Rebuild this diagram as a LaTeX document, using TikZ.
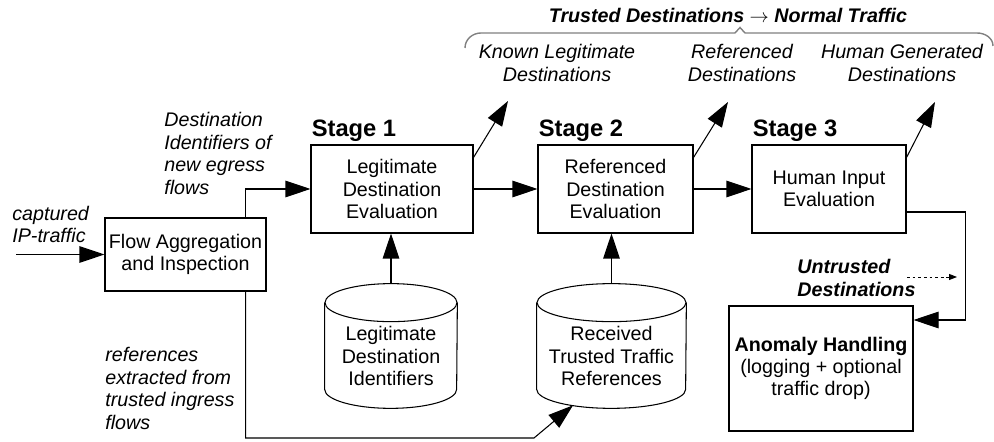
\documentclass[tikz,border=0pt]{standalone}
\usepackage{fontspec}
\setmainfont{Liberation Sans}
\usetikzlibrary{arrows.meta,positioning,calc}

\begin{document}
\begin{tikzpicture}[every node/.style={font=\fontsize{11.2}{12.6}\selectfont},
    block/.style={draw, line width=0.6pt, rectangle, align=center, inner sep=2pt},
    store/.style={rectangle, inner sep=0pt, minimum height=2.48cm},
    lbl/.style={align=left, inner sep=0pt, font=\fontsize{11.2}{13}\selectfont\itshape},
    stagelbl/.style={anchor=base west, inner sep=0pt, font=\fontsize{13.5}{15}\selectfont\bfseries},
    arr/.style={line width=0.6pt, -{Triangle[length=0.5cm, width=0.33cm]}},
    dotarr/.style={line width=0.5pt, dash pattern=on 1.6pt off 1.6pt, -{Triangle[length=0.16cm, width=0.12cm]}},
    brc/.style={gray, line width=0.8pt}
  ]
  \useasboundingbox (0,0) rectangle (19.88,8.84);

  % Bloecke
  \node[block, minimum width=3.22cm, minimum height=1.46cm] (flow) at (3.71,3.75) {Flow Aggregation\\and Inspection};
  \node[block, minimum width=3.24cm, minimum height=1.76cm] (s1) at (7.84,5.06) {Legitimate\\Destination\\Evaluation};
  \node[block, minimum width=3.10cm, minimum height=1.76cm] (s2) at (12.31,5.06) {Referenced\\Destination\\Evaluation};
  \node[block, minimum width=3.08cm, minimum height=1.76cm] (s3) at (16.58,5.06) {Human Input\\Evaluation};
  \node[block, minimum width=3.68cm, minimum height=2.50cm] (anom) at (16.42,1.47) {\textbf{Anomaly Handling}\\(logging + optional\\traffic drop)};

  % Stufen
  \node[stagelbl] (lab1) at ($(s1.north west)+(0.02,0.16)$) {Stage 1};
  \node[stagelbl] (lab2) at ($(s2.north west)+(0.02,0.16)$) {Stage 2};
  \node[stagelbl] (lab3) at ($(s3.north west)+(0.02,0.16)$) {Stage 3};

  % Datenbanken (Zylinder)
  \node[store, minimum width=2.64cm, label={[yshift=-0.2cm, align=center]center:Legitimate\\Destination\\Identifiers}] (cyl1) at (7.82,1.92) {};
  \node[store, minimum width=2.98cm, label={[yshift=-0.2cm, align=center]center:Received\\Trusted Traffic\\References}] (cyl2) at (12.23,1.92) {};
  \foreach \c/\rx in {cyl1/1.32, cyl2/1.49} {%
    \draw[line width=0.6pt] ($(\c.north west)+(0,-0.38)$) -- ($(\c.south west)+(0,0.38)$)
      arc[start angle=180, end angle=360, x radius=\rx, y radius=0.38] -- ($(\c.north east)+(0,-0.38)$);
    \draw[line width=0.6pt] ($(\c.north)+(0,-0.38)$) ellipse[x radius=\rx, y radius=0.38];
  }

  % Beschriftungen
  \node[lbl, anchor=west] (cap) at (0.24,4.35) {captured\\IP-traffic};
  \node[lbl, anchor=west] (dlab) at (3.28,5.77) {Destination\\Identifiers of\\new egress\\flows};
  \node[lbl, anchor=west] (rlab) at (2.10,1.07) {references\\extracted from\\trusted ingress\\flows};
  \node[lbl, anchor=west, font=\fontsize{11.2}{12.6}\selectfont\bfseries\itshape] (untr) at (15.94,3.28) {Untrusted\\Destinations};

  % Vertrauenswuerdige Ziele
  \node[font=\fontsize{11.2}{12.6}\selectfont\bfseries\itshape] (title) at (14.56,8.54) {Trusted Destinations $\rightarrow$ Normal Traffic};
  \draw[brc] (9.30,7.88) to[out=90,in=180] (9.62,8.18) -- (14.70,8.18) -- (14.80,8.29) -- (14.90,8.18)
    -- (19.54,8.18) to[out=0,in=90] (19.86,7.92);
  \node[lbl, align=center] (klab) at (11.14,7.58) {Known Legitimate\\Destinations};
  \node[lbl, align=center] (rdlab) at (14.84,7.58) {Referenced\\Destinations};
  \node[lbl, align=center] (hlab) at (18.04,7.58) {Human Generated\\Destinations};

  \coordinate (t1) at (10.16,6.82);
  \coordinate (t2) at (14.56,6.80);
  \coordinate (t3) at (18.70,6.80);
  \coordinate (cin) at (0.32,3.75);
  \coordinate (bk) at (10.68,0.08);
  \coordinate (d1) at (18.14,3.30);
  \coordinate (d2) at (19.14,3.30);

  % Pfeile
  \draw[arr] (cin) -- (flow.west);
  \draw[arr] ($(flow.north east)+(-0.42,0)$) |- (s1.west);
  \draw[arr] (s1.east) -- (s2.west);
  \draw[arr] (s2.east) -- (s3.west);
  \draw[arr] ($(s1.north east)+(0,-0.26)$) -- (t1);
  \draw[arr] ($(s2.north east)+(0,-0.26)$) -- (t2);
  \draw[arr] ($(s3.north east)+(0,-0.26)$) -- (t3);
  \draw[arr] (cyl1.north) -- (cyl1.north |- s1.south);
  \draw[arr] (cyl2.north) -- (cyl2.north |- s2.south);
  \draw[arr] ($(flow.south east)+(-0.42,0)$) |- (bk) -- ($(cyl2.south)+(-0.77,0.06)$);
  \draw[arr] ($(s3.east)+(0,-0.46)$) -- ++(1.18,0) |- ($(anom.east)+(0,0.97)$);
  \draw[dotarr] (d1) -- (d2);
\end{tikzpicture}
\end{document}
